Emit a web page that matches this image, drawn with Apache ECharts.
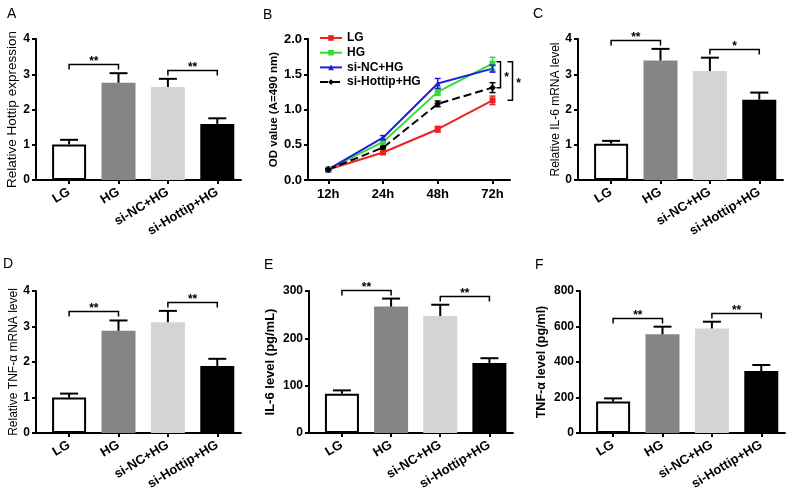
<!DOCTYPE html>
<html><head><meta charset="utf-8">
<script src="https://cdn.jsdelivr.net/npm/echarts/dist/echarts.min.js"></script>
<style>html,body{margin:0;padding:0;background:#fff}#c{width:800px;height:497px}</style>
</head><body><div id="c"></div>
<script>
// ---------- data ----------
const groups = ['LG', 'HG', 'si-NC+HG', 'si-Hottip+HG'];
const timePoints = ['12h', '24h', '48h', '72h'];

// A: Relative Hottip expression
const hottipMean = [1.01, 2.76, 2.64, 1.59];
const hottipErr  = [0.13, 0.27, 0.23, 0.16];
// C: Relative IL-6 mRNA level
const il6mRNAMean = [1.03, 3.39, 3.09, 2.28];
const il6mRNAErr  = [0.08, 0.33, 0.38, 0.20];
// D: Relative TNF-α mRNA level
const tnfmRNAMean = [1.00, 2.88, 3.12, 1.89];
const tnfmRNAErr  = [0.11, 0.29, 0.32, 0.20];
// E: IL-6 level (pg/mL)
const il6Mean = [83, 267, 247, 148];
const il6Err  = [7, 17, 24, 10];
// F: TNF-α level (pg/ml)
const tnfMean = [177, 556, 589, 349];
const tnfErr  = [18, 43, 38, 34];

// B: OD value over time
const odLG      = [0.15, 0.39, 0.72, 1.13];
const odHG      = [0.15, 0.54, 1.25, 1.65];
const odSiNC    = [0.15, 0.60, 1.37, 1.58];
const odSiHot   = [0.15, 0.46, 1.08, 1.31];
const odLGErr    = [0.01, 0.02, 0.04, 0.06];
const odHGErr    = [0.01, 0.03, 0.05, 0.09];
const odSiNCErr  = [0.01, 0.03, 0.07, 0.05];
const odSiHotErr = [0.01, 0.02, 0.04, 0.07];

// significance pairs: [groupA, groupB, label]
const sigA = [[0, 1, '**'], [2, 3, '**']];
const sigC = [[0, 1, '**'], [2, 3, '*']];
const sigD = [[0, 1, '**'], [2, 3, '**']];
const sigE = [[0, 1, '**'], [2, 3, '**']];
const sigF = [[0, 1, '**'], [2, 3, '**']];
// B: brackets at the last time point between series
const sigB = [['HG', 'si-Hottip+HG', '*'], ['HG', 'LG', '*']];

// ---------- styles ----------
const FONT = 'Liberation Sans, Arial, sans-serif';
const barFill = ['#ffffff', '#858585', '#d4d4d4', '#000000'];
const lineColors = ['#ee2222', '#33dd33', '#1f1fdd', '#000000'];
const lineSymbols = ['rect', 'rect', 'triangle', 'diamond'];

const chart = echarts.init(document.getElementById('c'), null, {renderer: 'canvas'});

const grids = [
  {left: 36,  top: 39,  width: 205, height: 141},
  {left: 308, top: 39,  width: 202, height: 141},
  {left: 578, top: 39,  width: 205, height: 141},
  {left: 36,  top: 291, width: 205, height: 142},
  {left: 309, top: 291, width: 204, height: 142},
  {left: 580, top: 291, width: 205, height: 142}
];

const xAxes = [], yAxes = [], series = [];

function baseAxisLine() { return {show: true, onZero: false, lineStyle: {color: '#000', width: 2}}; }

function addBarPanel(k, means, errs, sig, yMax, yInt, title, tBold, tSize, nameGap) {
  const cats = [0, 1, 2, 3];
  xAxes.push({
    gridIndex: k, type: 'value', min: -0.67, max: 3.48,
    axisLine: baseAxisLine(),
    axisTick: {show: true, customValues: cats, length: 4, lineStyle: {color: '#000', width: 2}},
    axisLabel: {show: true, customValues: cats, formatter: v => groups[Math.round(v)] || '',
      rotate: 31, margin: 11, fontSize: 13, fontWeight: 'bold', color: '#000', fontFamily: FONT},
    splitLine: {show: false}
  });
  yAxes.push({
    gridIndex: k, type: 'value', min: 0, max: yMax, interval: yInt,
    name: title, nameLocation: 'middle', nameGap: nameGap,
    nameTextStyle: {fontSize: tSize, fontWeight: tBold ? 'bold' : 'normal', color: '#000', fontFamily: FONT},
    axisLine: baseAxisLine(),
    axisTick: {show: true, length: 4, lineStyle: {color: '#000', width: 2}},
    axisLabel: {margin: 6, fontSize: 12, fontWeight: 'bold', color: '#000', fontFamily: FONT},
    splitLine: {show: false}
  });
  series.push({
    type: 'bar', xAxisIndex: k, yAxisIndex: k, barWidth: 34,
    data: means.map((v, i) => ({
      value: [i, v],
      itemStyle: i === 0 ? {color: barFill[i], borderColor: '#000', borderWidth: 2}
                         : {color: barFill[i], borderWidth: 0}
    })),
    silent: true
  });
  series.push({
    type: 'custom', xAxisIndex: k, yAxisIndex: k, z: 5,
    data: means.map((v, i) => [i, v, errs[i]]),
    renderItem: (params, api) => {
      const x = api.value(0), m = api.value(1), e = api.value(2);
      const p0 = api.coord([x, m]), p1 = api.coord([x, m + e]);
      const st = {stroke: '#000', lineWidth: 2};
      return {type: 'group', children: [
        {type: 'line', shape: {x1: p0[0], y1: p0[1], x2: p1[0], y2: p1[1]}, style: st},
        {type: 'line', shape: {x1: p1[0] - 9, y1: p1[1], x2: p1[0] + 9, y2: p1[1]}, style: st}
      ]};
    }
  });
  series.push({
    type: 'custom', xAxisIndex: k, yAxisIndex: k, z: 5,
    data: sig.map(s => [s[0], s[1], Math.max(means[s[0]] + errs[s[0]], means[s[1]] + errs[s[1]])]),
    renderItem: (params, api) => {
      const i = api.value(0), j = api.value(1), top = api.value(2);
      const pi = api.coord([i, top]), pj = api.coord([j, top]);
      const y = Math.round(pi[1] - 9) + 0.5;
      return {type: 'group', children: [
        {type: 'polyline', shape: {points: [[pi[0], y + 5], [pi[0], y], [pj[0], y], [pj[0], y + 5]]},
          style: {stroke: '#000', lineWidth: 1.5, fill: null}},
        {type: 'text', style: {text: sig[params.dataIndex][2], x: (pi[0] + pj[0]) / 2, y: y - 3,
          align: 'center', verticalAlign: 'middle', fontSize: 12, fontWeight: 'bold',
          fontFamily: FONT, fill: '#000'}}
      ]};
    }
  });
}

// Panel order in axes: 0=A, 1=B, 2=C, 3=D, 4=E, 5=F
addBarPanel(0, hottipMean, hottipErr, sigA, 4, 1, 'Relative Hottip expression', false, 13.5, 14);

// ---- Panel B (line chart) ----
xAxes.push({
  gridIndex: 1, type: 'value', min: -0.37, max: 3.32,
  axisLine: baseAxisLine(),
  axisTick: {show: true, customValues: [0, 1, 2, 3], length: 4, lineStyle: {color: '#000', width: 2}},
  axisLabel: {show: true, customValues: [0, 1, 2, 3], formatter: v => timePoints[Math.round(v)] || '',
    margin: 8, fontSize: 13, fontWeight: 'bold', color: '#000', fontFamily: FONT},
  splitLine: {show: false}
});
yAxes.push({
  gridIndex: 1, type: 'value', min: 0, max: 2, interval: 0.5,
  name: 'OD value (A=490 nm)', nameLocation: 'middle', nameGap: 28,
  nameTextStyle: {fontSize: 11.5, fontWeight: 'bold', color: '#000', fontFamily: FONT},
  axisLine: baseAxisLine(),
  axisTick: {show: true, length: 4, lineStyle: {color: '#000', width: 2}},
  axisLabel: {margin: 6, fontSize: 13, fontWeight: 'bold', color: '#000', fontFamily: FONT,
    formatter: v => v.toFixed(1)},
  splitLine: {show: false}
});
const odMeans = [odLG, odHG, odSiNC, odSiHot];
const odErrs = [odLGErr, odHGErr, odSiNCErr, odSiHotErr];
groups.forEach((g, s) => {
  series.push({
    name: g, type: 'line', xAxisIndex: 1, yAxisIndex: 1,
    data: odMeans[s].map((v, i) => [i, v]),
    symbol: lineSymbols[s], symbolSize: s === 3 ? 7 : 6,
    itemStyle: {color: lineColors[s]},
    lineStyle: {color: lineColors[s], width: 2, type: s === 3 ? 'dashed' : 'solid'},
    z: 3
  });
  series.push({
    type: 'custom', xAxisIndex: 1, yAxisIndex: 1, z: 4,
    data: odMeans[s].map((v, i) => [i, v, odErrs[s][i]]),
    renderItem: (params, api) => {
      const x = api.value(0), m = api.value(1), e = api.value(2);
      const p0 = api.coord([x, m - e]), p1 = api.coord([x, m + e]);
      const st = {stroke: lineColors[s], lineWidth: 1.5};
      return {type: 'group', children: [
        {type: 'line', shape: {x1: p0[0], y1: p0[1], x2: p1[0], y2: p1[1]}, style: st},
        {type: 'line', shape: {x1: p1[0] - 3, y1: p1[1], x2: p1[0] + 3, y2: p1[1]}, style: st},
        {type: 'line', shape: {x1: p0[0] - 3, y1: p0[1], x2: p0[0] + 3, y2: p0[1]}, style: st}
      ]};
    }
  });
});
const bOffsets = [8, 20], bTicks = [4, 5];
series.push({
  type: 'custom', xAxisIndex: 1, yAxisIndex: 1, z: 5,
  data: sigB.map(s => [3, odMeans[groups.indexOf(s[0])][3], odMeans[groups.indexOf(s[1])][3]]),
  renderItem: (params, api) => {
    const k = params.dataIndex;
    const pa = api.coord([api.value(0), api.value(1)]), pb = api.coord([api.value(0), api.value(2)]);
    const x = Math.round(pa[0] + bOffsets[k]) + 0.5, t = bTicks[k];
    const ya = Math.min(pa[1], pb[1]) - 2, yb = Math.max(pa[1], pb[1]);
    return {type: 'group', children: [
      {type: 'polyline', shape: {points: [[x - t, ya], [x, ya], [x, yb], [x - t, yb]]},
        style: {stroke: '#000', lineWidth: 1.5, fill: null}},
      {type: 'text', style: {text: sigB[k][2], x: x + 6, y: (ya + yb) / 2 + 3, align: 'center',
        verticalAlign: 'middle', fontSize: 12, fontWeight: 'bold', fontFamily: FONT, fill: '#000'}}
    ]};
  }
});

addBarPanel(2, il6mRNAMean, il6mRNAErr, sigC, 4, 1, 'Relative IL-6 mRNA level', false, 12, 15);
addBarPanel(3, tnfmRNAMean, tnfmRNAErr, sigD, 4, 1, 'Relative TNF-α mRNA level', false, 12, 16);
addBarPanel(4, il6Mean, il6Err, sigE, 300, 100, 'IL-6 level (pg/mL)', true, 13, 32);
addBarPanel(5, tnfMean, tnfErr, sigF, 800, 200, 'TNF-α level (pg/ml)', true, 12.5, 32);

const letters = [['A', 7, 7], ['B', 263, 8], ['C', 533, 7], ['D', 3, 257], ['E', 264, 258], ['F', 535, 258]];

chart.setOption({
  animation: false,
  backgroundColor: '#ffffff',
  textStyle: {fontFamily: FONT},
  grid: grids,
  xAxis: xAxes,
  yAxis: yAxes,
  legend: {
    data: groups, orient: 'vertical', left: 314, top: 27,
    itemWidth: 22, itemHeight: 7, itemGap: 2.7,
    textStyle: {fontSize: 12, fontWeight: 'bold', color: '#000', fontFamily: FONT, lineHeight: 12},
    selectedMode: false
  },
  graphic: letters.map(l => ({type: 'text', left: l[1], top: l[2],
    style: {text: l[0], fontSize: 14, fontFamily: FONT, fill: '#000'}})),
  series: series
});
</script></body></html>
